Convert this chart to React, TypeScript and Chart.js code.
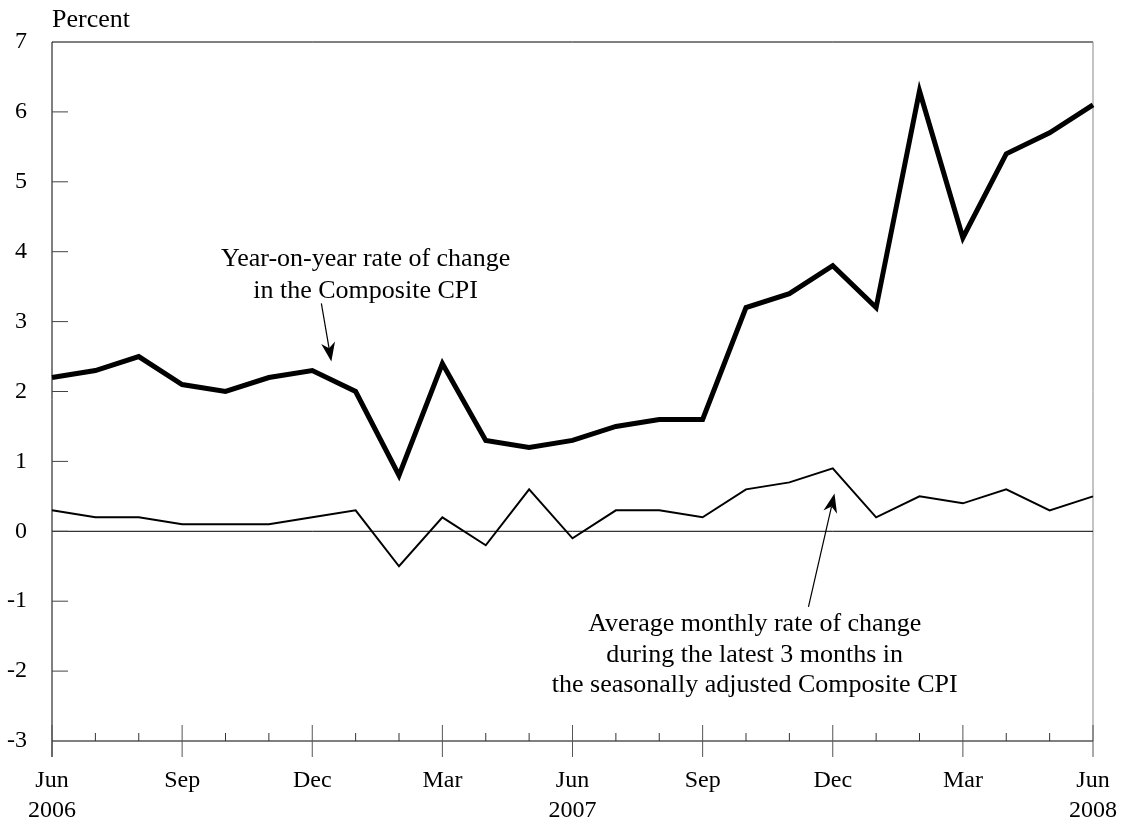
import React, { useEffect, useRef } from "react";
import { Chart, registerables } from "chart.js";

Chart.register(...registerables);

const months = [
  "Jun 2006", "Jul 2006", "Aug 2006", "Sep 2006", "Oct 2006", "Nov 2006", "Dec 2006",
  "Jan 2007", "Feb 2007", "Mar 2007", "Apr 2007", "May 2007", "Jun 2007", "Jul 2007",
  "Aug 2007", "Sep 2007", "Oct 2007", "Nov 2007", "Dec 2007", "Jan 2008", "Feb 2008",
  "Mar 2008", "Apr 2008", "May 2008", "Jun 2008",
];

const tickLabels: (string | string[])[] = [
  ["Jun", "2006"], "", "", "Sep", "", "", "Dec", "", "", "Mar", "", "", ["Jun", "2007"],
  "", "", "Sep", "", "", "Dec", "", "", "Mar", "", "", ["Jun", "2008"],
];

const yearOnYear = [
  2.2, 2.3, 2.5, 2.1, 2.0, 2.2, 2.3, 2.0, 0.8, 2.4, 1.3, 1.2, 1.3, 1.5, 1.6, 1.6,
  3.2, 3.4, 3.8, 3.2, 6.3, 4.2, 5.4, 5.7, 6.1,
];

const threeMonthAvg = [
  0.3, 0.2, 0.2, 0.1, 0.1, 0.1, 0.2, 0.3, -0.5, 0.2, -0.2, 0.6, -0.1, 0.3, 0.3, 0.2,
  0.6, 0.7, 0.9, 0.2, 0.5, 0.4, 0.6, 0.3, 0.5,
];

const yTicks = [-3, -2, -1, 0, 1, 2, 3, 4, 5, 6, 7];
const majorTickIdx = [0, 3, 6, 9, 12, 15, 18, 21, 24];

const yoyLabel = ["Year-on-year rate of change", "in the Composite CPI"];
const avgLabel = [
  "Average monthly rate of change",
  "during the latest 3 months in",
  "the seasonally adjusted Composite CPI",
];

const FONT = "'Liberation Serif', 'Times New Roman', serif";

function drawArrow(ctx: CanvasRenderingContext2D, x1: number, y1: number, x2: number, y2: number) {
  const ang = Math.atan2(y2 - y1, x2 - x1);
  const len = 19;
  const half = 7;
  const bx = x2 - len * Math.cos(ang);
  const by = y2 - len * Math.sin(ang);
  const nx = x2 - len * 0.7 * Math.cos(ang);
  const ny = y2 - len * 0.7 * Math.sin(ang);
  ctx.save();
  ctx.strokeStyle = "#000";
  ctx.lineWidth = 1.2;
  ctx.beginPath();
  ctx.moveTo(x1, y1);
  ctx.lineTo(nx, ny);
  ctx.stroke();
  ctx.fillStyle = "#000";
  ctx.beginPath();
  ctx.moveTo(x2, y2);
  ctx.lineTo(bx - half * Math.sin(ang), by + half * Math.cos(ang));
  ctx.lineTo(nx, ny);
  ctx.lineTo(bx + half * Math.sin(ang), by - half * Math.cos(ang));
  ctx.closePath();
  ctx.fill();
  ctx.restore();
}

const decorPlugin = {
  id: "decor",
  beforeDatasetsDraw(chart: any) {
    const { ctx, chartArea: a, scales } = chart;
    const xs = scales.x;
    const ys = scales.y;
    ctx.save();
    ctx.lineWidth = 1;
    ctx.strokeStyle = "#000";
    ctx.beginPath();
    ctx.moveTo(a.left, a.bottom + 16);
    ctx.lineTo(a.left, a.top);
    ctx.lineTo(a.right, a.top);
    ctx.stroke();
    ctx.strokeStyle = "#888";
    ctx.beginPath();
    ctx.moveTo(a.right, a.top);
    ctx.lineTo(a.right, a.bottom);
    ctx.stroke();
    ctx.strokeStyle = "#000";
    ctx.beginPath();
    ctx.moveTo(a.left, a.bottom);
    ctx.lineTo(a.right, a.bottom);
    ctx.stroke();
    const y0 = ys.getPixelForValue(0);
    ctx.beginPath();
    ctx.moveTo(a.left, y0);
    ctx.lineTo(a.right, y0);
    ctx.stroke();
    ctx.strokeStyle = "#444";
    yTicks.forEach((v) => {
      const y = ys.getPixelForValue(v);
      if (v === -3 || v === 7) return;
      ctx.beginPath();
      ctx.moveTo(a.left, y);
      ctx.lineTo(a.left + 16, y);
      ctx.stroke();
    });
    months.forEach((_, i) => {
      const x = xs.getPixelForValue(i);
      const major = majorTickIdx.includes(i);
      ctx.strokeStyle = major ? "#555" : "#333";
      ctx.beginPath();
      ctx.moveTo(x, major ? a.bottom - 16 : a.bottom - 8);
      ctx.lineTo(x, major ? a.bottom + 16 : a.bottom);
      ctx.stroke();
    });
    ctx.restore();
  },
  afterDatasetsDraw(chart: any) {
    const { ctx, chartArea: a, scales } = chart;
    const xs = scales.x;
    const ys = scales.y;
    ctx.save();
    ctx.fillStyle = "#000";
    ctx.font = `26px ${FONT}`;
    ctx.textBaseline = "alphabetic";
    ctx.textAlign = "left";
    ctx.fillText("Percent", a.left, 27);

    ctx.textAlign = "center";
    const yoyX = xs.getPixelForValue(7.23);
    ctx.fillText(yoyLabel[0], yoyX, ys.getPixelForValue(3.79));
    ctx.fillText(yoyLabel[1], yoyX, ys.getPixelForValue(3.34));

    const avgX = xs.getPixelForValue(16.2);
    ctx.fillText(avgLabel[0], avgX, ys.getPixelForValue(-1.43));
    ctx.fillText(avgLabel[1], avgX, ys.getPixelForValue(-1.87));
    ctx.fillText(avgLabel[2], avgX, ys.getPixelForValue(-2.30));

    drawArrow(
      ctx,
      xs.getPixelForValue(6.21), ys.getPixelForValue(3.26),
      xs.getPixelForValue(6.44), ys.getPixelForValue(2.43)
    );
    drawArrow(
      ctx,
      xs.getPixelForValue(17.44), ys.getPixelForValue(-1.08),
      xs.getPixelForValue(18.04), ys.getPixelForValue(0.54)
    );
    ctx.restore();
  },
};

export default function App() {
  const canvasRef = useRef<HTMLCanvasElement | null>(null);

  useEffect(() => {
    document.body.style.margin = "0";
    const canvas = canvasRef.current;
    if (!canvas) return;
    Chart.defaults.font.family = FONT;
    Chart.defaults.color = "#000";
    const chart = new Chart(canvas, {
      type: "line",
      data: {
        labels: tickLabels as any,
        datasets: [
          {
            label: "Year-on-year rate of change in the Composite CPI",
            data: yearOnYear,
            borderColor: "#000",
            borderWidth: 5,
            pointRadius: 0,
            tension: 0,
            borderJoinStyle: "miter",
          },
          {
            label: "Average monthly rate of change (3 months, s.a.)",
            data: threeMonthAvg,
            borderColor: "#000",
            borderWidth: 2,
            pointRadius: 0,
            tension: 0,
            borderJoinStyle: "miter",
          },
        ],
      },
      options: {
        animation: false,
        responsive: true,
        maintainAspectRatio: false,
        layout: { padding: { top: 42, right: 35, left: 0, bottom: 0 } },
        plugins: {
          legend: { display: false },
          tooltip: { enabled: false },
          title: { display: false },
        },
        scales: {
          x: {
            type: "category",
            offset: false,
            grid: { display: false, drawTicks: false },
            border: { display: false },
            ticks: {
              autoSkip: false,
              maxRotation: 0,
              minRotation: 0,
              padding: 25,
              font: { size: 24, lineHeight: 1.25, family: FONT },
              color: "#000",
            },
            afterFit: (s: any) => {
              s.height = 85;
              s.paddingLeft = 0;
              s.paddingRight = 0;
            },
          },
          y: {
            min: -3,
            max: 7,
            grid: { display: false, drawTicks: false },
            border: { display: false },
            ticks: {
              stepSize: 1,
              padding: 25,
              font: { size: 24, family: FONT },
              color: "#000",
            },
            afterFit: (s: any) => {
              s.width = 52;
              s.paddingTop = 0;
              s.paddingBottom = 0;
            },
          },
        },
      },
      plugins: [decorPlugin],
    });
    return () => chart.destroy();
  }, []);

  return (
    <div style={{ position: "absolute", left: 0, top: 0, width: 1128, height: 826, background: "#fff" }}>
      <canvas ref={canvasRef} />
    </div>
  );
}
